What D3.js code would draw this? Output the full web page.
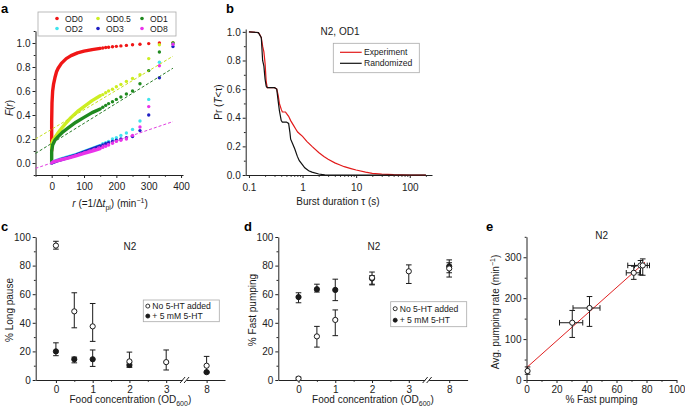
<!DOCTYPE html>
<html>
<head>
<meta charset="utf-8">
<script src="https://cdn.jsdelivr.net/npm/d3@7"></script>
<style>
  body { margin: 0; background: #fff; }
  svg { font-family: "Liberation Sans", Arial, sans-serif; }
  .axis path, .axis line { stroke: #222; stroke-width: 1; }
  .axis text { font-size: 10px; fill: #222; font-family: "Liberation Sans", Arial, sans-serif; }
</style>
</head>
<body>
<svg width="685" height="413"></svg>
<script>
// ---------- panel a : F(r) for the six food levels ----------
const odNames = ["OD0", "OD0.5", "OD1", "OD2", "OD3", "OD8"]
const odColours = ["#f01616", "#cdee22", "#1f8a1f", "#40e4ee", "#2020c4", "#ea32ea"]

// dense (continuous looking) part of every curve, [r, F]
const denseOD0 = [[0, 0.1], [0, 0.35], [1, 0.5], [3, 0.6], [6, 0.66], [10, 0.71], [15, 0.76], [20, 0.79], [30, 0.83], [45, 0.87], [60, 0.895], [80, 0.918], [100, 0.932], [125, 0.945], [150, 0.955]]
const denseOD05 = [[0, 0.12], [0, 0.16], [4, 0.19], [12, 0.22], [25, 0.27], [40, 0.32], [60, 0.38], [80, 0.43], [100, 0.47], [125, 0.52], [150, 0.56]]
const denseOD1 = [[0, 0.0], [0, 0.1], [3, 0.15], [10, 0.19], [20, 0.22], [35, 0.26], [50, 0.29], [75, 0.34], [100, 0.38], [125, 0.42], [150, 0.45]]
const denseOD2 = [[0, 0], [10, 0.015], [25, 0.03], [50, 0.05], [75, 0.07], [100, 0.095], [125, 0.12], [150, 0.145]]
const denseOD3 = [[0, 0], [25, 0.025], [50, 0.045], [75, 0.065], [100, 0.09], [125, 0.115], [150, 0.14]]
const denseOD8 = [[0, 0], [5, 0.01], [25, 0.025], [50, 0.04], [75, 0.06], [100, 0.08], [125, 0.1], [150, 0.12]]
const denseCurves = [denseOD0, denseOD05, denseOD1, denseOD2, denseOD3, denseOD8]

// quantised rates where the single dots show
const rDots = [158, 167, 176, 188, 200, 214, 231, 250, 273, 300, 333, 375]
const dotsOD0 = [0.958, 0.962, 0.965, 0.969, 0.972, 0.976, 0.98, 0.985, 0.99, 0.995, 1.0, 1.0]
const dotsOD05 = [0.57, 0.585, 0.6, 0.615, 0.635, 0.655, 0.68, 0.705, 0.735, 0.87, 0.985, 1.0]
const dotsOD1 = [0.465, 0.48, 0.495, 0.51, 0.53, 0.55, 0.575, 0.6, 0.66, 0.77, 0.925, 1.0]
const dotsOD2 = [0.16, 0.17, 0.18, 0.2, 0.21, 0.23, 0.25, 0.28, 0.35, 0.53, 0.84, 0.99]
const dotsOD3 = [0.15, 0.16, 0.17, 0.18, 0.19, 0.2, 0.21, 0.22, 0.27, 0.40, 0.71, 0.97]
const dotsOD8 = [0.13, 0.14, 0.15, 0.165, 0.18, 0.19, 0.2, 0.23, 0.3, 0.47, 0.81, 0.99]
const dotSeries = [dotsOD0, dotsOD05, dotsOD1, dotsOD2, dotsOD3, dotsOD8]

// dashed linear fits, [r, F]
const fitOD05 = [[-50, 0.2], [375, 0.89]]
const fitOD1 = [[-50, 0.08], [375, 0.79]]
const fitOD8 = [[-50, -0.045], [375, 0.345]]
const fitColours = ["#c6e01c", "#2a7d2a", "#e03ee0"]

// ---------- panel b : burst durations ----------
const tauExp = [0.1, 0.15, 0.16, 0.17, 0.18, 0.19, 0.2, 0.21, 0.22, 0.3, 0.33, 0.35, 0.37, 0.4, 0.42, 0.48, 0.5, 0.55, 0.6, 0.67, 0.75, 0.81, 0.9, 1.0, 1.2, 1.5, 2, 2.5, 3, 4, 5, 6, 8, 10, 15, 20, 30, 50, 100, 200]
const prExp = [1.0, 0.995, 0.98, 0.96, 0.9, 0.86, 0.78, 0.65, 0.61, 0.61, 0.6, 0.56, 0.5, 0.46, 0.44, 0.44, 0.43, 0.41, 0.38, 0.35, 0.32, 0.3, 0.285, 0.27, 0.235, 0.2, 0.157, 0.13, 0.11, 0.085, 0.07, 0.058, 0.045, 0.035, 0.02, 0.012, 0.006, 0.002, 0, 0]
const tauRnd = [0.1, 0.15, 0.17, 0.18, 0.19, 0.2, 0.21, 0.22, 0.3, 0.33, 0.35, 0.37, 0.4, 0.42, 0.5, 0.55, 0.58, 0.6, 0.65, 0.72, 0.8, 0.87, 1.0, 1.1, 1.3, 1.5, 2, 2.6, 3, 200]
const prRnd = [1.0, 0.995, 0.96, 0.8, 0.76, 0.67, 0.62, 0.61, 0.61, 0.6, 0.52, 0.45, 0.38, 0.37, 0.37, 0.36, 0.3, 0.25, 0.22, 0.18, 0.13, 0.1, 0.07, 0.05, 0.03, 0.02, 0.007, 0.001, 0, 0]

// ---------- panels c, d : food concentration ----------
const foodOD = [0, 0.5, 1, 2, 3, 8]
// [mean, low, high] per food level, null = not measured
const pauseNo5HT = [[94, 91.5, 97], [48, 36.5, 61], [37.5, 27, 53.5], [13, 9, 19.5], [12.5, 7, 21], [10, 5, 16.5]]
const pause5HT = [[20, 17, 26], [14.5, 12, 16], [14.5, 9.5, 21], [10.5, 9, 12], null, [5.5, 5, 6]]
const fastNo5HT = [[1, 0, 2], [30.5, 23, 37.5], [42, 31, 49], [71.5, 67, 75.5], [76, 67.5, 80.5], [78, 72, 82]]
const fast5HT = [[58, 54, 61], [63.5, 61.5, 67], [63, 55.5, 70.5], [71, 66.5, 73], null, [79.5, 75, 84]]

// ---------- panel e : rate vs % fast pumping ----------
const fastPct = [[0.7, 0, 1.5], [30.5, 22, 37.5], [42, 31, 49], [71.5, 66.5, 75.5], [76, 67.5, 80.5], [77.5, 72, 82]]
const pumpRate = [[22, 14, 32], [140, 104, 170], [176, 131, 204], [262, 246, 278], [280, 257, 292], [280, 256, 296]]
const rateFit = [[0, 30], [79, 288]]

const svg = d3.select("svg")
const ink = "#1a1a1a"

function addAxis(g, make, scale, tr, majors, minors, fmt, pad) {
  const ax = g.append("g").attr("class", "axis").attr("transform", tr)
    .call(make(scale).tickValues(majors).tickSize(3).tickSizeOuter(0).tickPadding(pad).tickFormat(fmt))
  if (minors) {
    g.append("g").attr("class", "axis").attr("transform", tr)
      .call(make(scale).tickValues(minors).tickSize(1.8).tickSizeOuter(0).tickFormat(""))
      .select(".domain").remove()
  }
  return ax
}

// text made of parts: {t, i: italic, sub, sup}
function richText(g, x, y, parts, opts = {}) {
  const t = g.append("text")
    .attr("text-anchor", opts.anchor || "middle")
    .attr("font-size", opts.size || 10)
    .attr("fill", ink)
    .attr("transform", `translate(${x},${y})` + (opts.rotate ? " rotate(-90)" : ""))
  let shift = 0
  parts.forEach(p => {
    const target = p.sub ? 2.5 : p.sup ? -4 : 0
    const s = t.append("tspan").text(p.t).attr("dy", target - shift)
    shift = target
    if (p.i) s.attr("font-style", "italic")
    if (p.sub || p.sup) s.attr("font-size", (opts.size || 10) * 0.7)
  })
  return t
}

function panelLetter(x, y, l) {
  svg.append("text").attr("x", x).attr("y", y).attr("font-size", 13)
    .attr("font-weight", "bold").attr("fill", "#000").text(l)
}

// ================= a =================
const xA = d3.scaleLinear().domain([-50, 406]).range([35.5, 183])
const yA = d3.scaleLinear().domain([-0.1, 1.1]).range([175, 31])
const gA = svg.append("g")
addAxis(gA, d3.axisBottom, xA, `translate(0,${yA(-0.1)})`, [0, 100, 200, 300, 400], [-50, 50, 150, 250, 350], d3.format("d"), 5)
addAxis(gA, d3.axisLeft, yA, `translate(${xA(-50)},0)`, [0, 0.2, 0.4, 0.6, 0.8, 1.0], [-0.1, 0.1, 0.3, 0.5, 0.7, 0.9, 1.1], d3.format(".1f"), 2)

const lineA = d3.line().x(d => xA(d[0])).y(d => yA(d[1]))
denseCurves.forEach((c, i) => {
  gA.append("path").attr("d", lineA(c)).attr("fill", "none")
    .attr("stroke", odColours[i]).attr("stroke-width", 3.4)
    .attr("stroke-linecap", "round").attr("stroke-linejoin", "round")
})
dotSeries.forEach((vals, i) => {
  gA.append("g").selectAll("circle").data(vals).join("circle")
    .attr("cx", (d, j) => xA(rDots[j])).attr("cy", d => yA(d))
    .attr("r", 1.7).attr("fill", odColours[i])
})
;[fitOD05, fitOD1, fitOD8].forEach((f, i) => {
  gA.append("path").attr("d", lineA(f)).attr("fill", "none")
    .attr("stroke", fitColours[i]).attr("stroke-width", 1).attr("stroke-dasharray", "3,2")
})

// legend
const legA = gA.append("g")
legA.append("rect").attr("x", 38).attr("y", 12).attr("width", 138).attr("height", 24)
  .attr("fill", "#fff").attr("stroke", "#aaa").attr("stroke-width", 0.8)
const legCols = [57, 98, 142]
odNames.forEach((n, i) => {
  const cx = legCols[i % 3], cy = i < 3 ? 18.5 : 28.5
  legA.append("circle").attr("cx", cx).attr("cy", cy).attr("r", 1.8).attr("fill", odColours[i])
  legA.append("text").attr("x", cx + 8).attr("y", cy + 3).attr("font-size", 8.6).attr("fill", ink).text(n)
})
richText(gA, 13, 108, [{ t: "F", i: 1 }, { t: "(" }, { t: "r", i: 1 }, { t: ")" }], { rotate: 1 })
richText(gA, 110, 207, [{ t: "r", i: 1 }, { t: " (=1/Δ" }, { t: "t", i: 1 }, { t: "pi", sub: 1 }, { t: ") (min" }, { t: "−1", sup: 1 }, { t: ")" }])
panelLetter(1, 13, "a")

// ================= b =================
const xB = d3.scaleLog().domain([0.087, 260]).range([245.7, 432])
const yB = d3.scaleLinear().domain([0, 1.02]).range([175, 29])
const gB = svg.append("g")
addAxis(gB, d3.axisBottom, xB, `translate(0,175)`, [0.1, 1, 10, 100], [0.2, 0.3, 0.4, 0.5, 0.6, 0.7, 0.8, 0.9, 2, 3, 4, 5, 6, 7, 8, 9, 20, 30, 40, 50, 60, 70, 80, 90, 200], d => d, 6)
addAxis(gB, d3.axisLeft, yB, `translate(245.7,0)`, [0, 0.2, 0.4, 0.6, 0.8, 1.0], [0.1, 0.3, 0.5, 0.7, 0.9], d3.format(".1f"), 2)

const lineB = d3.line().x(d => xB(d[0])).y(d => yB(d[1]))
gB.append("path").attr("d", lineB(tauExp.map((t, i) => [t, prExp[i]])))
  .attr("fill", "none").attr("stroke", "#e21a1a").attr("stroke-width", 1.2)
gB.append("path").attr("d", lineB(tauRnd.map((t, i) => [t, prRnd[i]])))
  .attr("fill", "none").attr("stroke", "#111").attr("stroke-width", 1.2)

gB.append("text").attr("x", 340).attr("y", 35).attr("text-anchor", "middle")
  .attr("font-size", 10).attr("fill", ink).text("N2, OD1")
const legB = gB.append("g")
legB.append("rect").attr("x", 333.3).attr("y", 43.3).attr("width", 86).attr("height", 29.4)
  .attr("fill", "#fff").attr("stroke", "#aaa").attr("stroke-width", 0.8)
;[["Experiment", "#e21a1a", 52.3], ["Randomized", "#111", 63.3]].forEach(([n, c, y]) => {
  legB.append("line").attr("x1", 340).attr("x2", 361.7).attr("y1", y).attr("y2", y)
    .attr("stroke", c).attr("stroke-width", 1.2)
  legB.append("text").attr("x", 364).attr("y", y + 3).attr("font-size", 8.6).attr("fill", ink).text(n)
})
richText(gB, 222, 102, [{ t: "Pr (" }, { t: "T", i: 1 }, { t: "<τ)" }], { rotate: 1 })
richText(gB, 338, 205, [{ t: "Burst duration τ (s)" }])
panelLetter(226, 13, "b")

// ================= c, d =================
const odPos = od => od > 3 ? 4.1 : od

function foodPanel(x0, x1, openData, closedData, yTitle, titleX, legX, legY, legH) {
  const x = d3.scaleLinear().domain([-0.55, 4.6]).range([x0, x1])
  const y = d3.scaleLinear().domain([0, 100]).range([380, 237])
  const g = svg.append("g")
  addAxis(g, d3.axisBottom, x, `translate(0,380)`, foodOD.filter(d => d !== 0.5).map(odPos), [0.5, 1.5, 2.5], d => d > 3 ? "8" : d, 3)
  addAxis(g, d3.axisLeft, y, `translate(${x0},0)`, [0, 20, 40, 60, 80, 100], [10, 30, 50, 70, 90], d3.format("d"), 2)

  // axis break between 3 and 8
  const bx = x(3.5)
  g.append("rect").attr("x", bx - 2).attr("y", 378).attr("width", 4).attr("height", 4).attr("fill", "#fff")
  ;[-2, 2].forEach(o => {
    g.append("line").attr("x1", bx + o - 2.5).attr("y1", 383).attr("x2", bx + o + 2.5).attr("y2", 377)
      .attr("stroke", "#222").attr("stroke-width", 1)
  })

  const drawSet = (data, fill) => {
    data.forEach((d, i) => {
      if (!d) return
      const px = x(odPos(foodOD[i]))
      g.append("line").attr("x1", px).attr("x2", px).attr("y1", y(d[1])).attr("y2", y(d[2]))
        .attr("stroke", ink).attr("stroke-width", 1)
      ;[d[1], d[2]].forEach(v => {
        g.append("line").attr("x1", px - 2.8).attr("x2", px + 2.8).attr("y1", y(v)).attr("y2", y(v))
          .attr("stroke", ink).attr("stroke-width", 1)
      })
      g.append("circle").attr("cx", px).attr("cy", y(d[0])).attr("r", 2.6)
        .attr("fill", fill).attr("stroke", ink).attr("stroke-width", 1)
    })
  }
  drawSet(closedData, ink)
  drawSet(openData, "#fff")

  g.append("text").attr("x", titleX).attr("y", 249.5).attr("text-anchor", "middle")
    .attr("font-size", 10).attr("fill", ink).text("N2")

  // legend
  g.append("rect").attr("x", legX).attr("y", legY).attr("width", 76).attr("height", legH)
    .attr("fill", "#fff").attr("stroke", "#aaa").attr("stroke-width", 0.8)
  ;[["No 5-HT added", "#fff"], ["+ 5 mM 5-HT", ink]].forEach(([n, f], i) => {
    const cy = legY + legH * (0.28 + i * 0.46)
    g.append("circle").attr("cx", legX + 4.5).attr("cy", cy).attr("r", 2).attr("fill", f)
      .attr("stroke", ink).attr("stroke-width", 0.9)
    g.append("text").attr("x", legX + 9).attr("y", cy + 3).attr("font-size", 8.6).attr("fill", ink).text(n)
  })

  richText(g, x0 - 22.5, 310, [{ t: yTitle }], { rotate: 1 })
  richText(g, (x0 + x1) / 2, 403, [{ t: "Food concentration (OD" }, { t: "600", sub: 1 }, { t: ")" }])
  return g
}

foodPanel(35.7, 225, pauseNo5HT, pause5HT, "% Long pause", 130, 143.3, 300, 21.7)
panelLetter(1, 231, "c")
foodPanel(278.3, 467.6, fastNo5HT, fast5HT, "% Fast pumping", 374, 390.7, 301.7, 25)
panelLetter(244, 231, "d")

// ================= e =================
const xE = d3.scaleLinear().domain([0, 100]).range([526.5, 676.5])
const yE = d3.scaleLinear().domain([0, 350]).range([380, 236.8])
const gE = svg.append("g")
addAxis(gE, d3.axisBottom, xE, `translate(0,380)`, [0, 20, 40, 60, 80, 100], [10, 30, 50, 70, 90], d3.format("d"), 3)
addAxis(gE, d3.axisLeft, yE, `translate(526.5,0)`, [0, 100, 200, 300], [50, 150, 250, 350], d3.format("d"), 2)

gE.append("path").attr("d", d3.line().x(d => xE(d[0])).y(d => yE(d[1]))(rateFit))
  .attr("fill", "none").attr("stroke", "#e02020").attr("stroke-width", 1)

fastPct.forEach((fx, i) => {
  const ry = pumpRate[i]
  const px = xE(fx[0]), py = yE(ry[0])
  // horizontal error
  gE.append("line").attr("x1", xE(fx[1])).attr("x2", xE(fx[2])).attr("y1", py).attr("y2", py)
    .attr("stroke", ink).attr("stroke-width", 1)
  ;[fx[1], fx[2]].forEach(v => gE.append("line").attr("x1", xE(v)).attr("x2", xE(v))
    .attr("y1", py - 2.8).attr("y2", py + 2.8).attr("stroke", ink).attr("stroke-width", 1))
  // vertical error
  gE.append("line").attr("x1", px).attr("x2", px).attr("y1", yE(ry[1])).attr("y2", yE(ry[2]))
    .attr("stroke", ink).attr("stroke-width", 1)
  ;[ry[1], ry[2]].forEach(v => gE.append("line").attr("x1", px - 2.8).attr("x2", px + 2.8)
    .attr("y1", yE(v)).attr("y2", yE(v)).attr("stroke", ink).attr("stroke-width", 1))
})
gE.append("g").selectAll("circle").data(fastPct).join("circle")
  .attr("cx", d => xE(d[0])).attr("cy", (d, i) => yE(pumpRate[i][0]))
  .attr("r", 2.6).attr("fill", "#fff").attr("stroke", ink).attr("stroke-width", 1)

gE.append("text").attr("x", 601.7).attr("y", 238.5).attr("text-anchor", "middle")
  .attr("font-size", 10).attr("fill", ink).text("N2")
richText(gE, 499, 312, [{ t: "Avg. pumping rate (min" }, { t: "−1", sup: 1 }, { t: ")" }], { rotate: 1 })
richText(gE, 601.5, 403, [{ t: "% Fast pumping" }])
panelLetter(486, 231, "e")
</script>
</body>
</html>
